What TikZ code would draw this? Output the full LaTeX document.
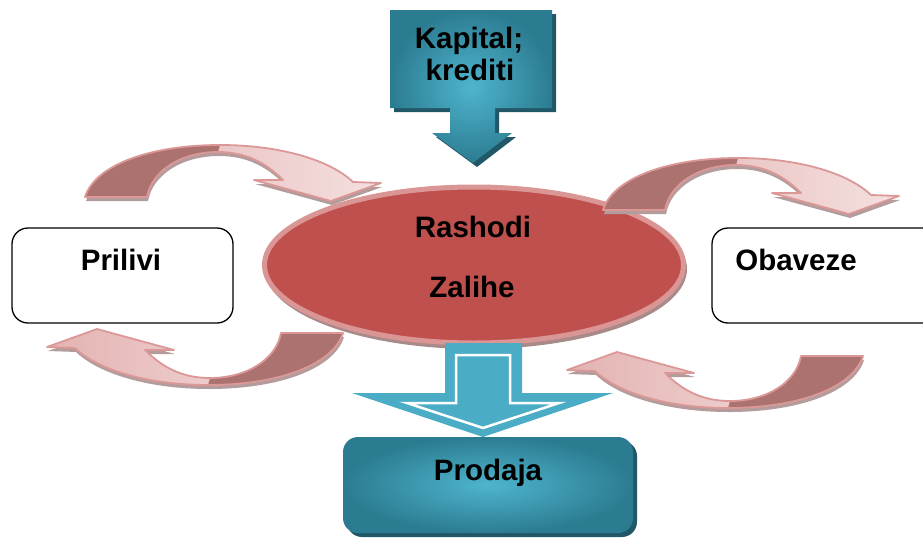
\documentclass[tikz,border=0pt]{standalone}
\usepackage{fontspec}
\setmainfont{Liberation Sans}
\usetikzlibrary{shapes.geometric}

\definecolor{tealfill}{HTML}{4BACC6}
\definecolor{tealdark}{HTML}{2C7C91}
\definecolor{teallight}{HTML}{4EB5CE}
\definecolor{tealshadow}{HTML}{215868}
\definecolor{redfill}{HTML}{C0504D}
\definecolor{redring}{HTML}{DA9694}
\definecolor{redshadow}{HTML}{A88A88}
\definecolor{rosedark}{HTML}{AC7270}
\definecolor{roselight}{HTML}{F4E0DF}
\definecolor{rosemid}{HTML}{E3B3B2}
\definecolor{roseedge}{HTML}{DC9896}
\definecolor{roseshadow}{HTML}{B49C9C}

% outline of one curved block arrow (tail at left, head pointing down-right)
\newcommand\arrowoutline{(85,197) .. controls (95,165) and (150,145) .. (220,145)
  .. controls (280,145) and (330,160) .. (353,182) -- (381,183) -- (331,201)
  -- (254,180) -- (283,180) .. controls (265,162) and (245,152) .. (218,152)
  .. controls (182,152) and (152,170) .. (147,197) -- cycle}
% the darker back part near the tail
\newcommand\arrowtail{(85,197) .. controls (95,165) and (150,145) .. (220,145)
  -- (218,152) .. controls (182,152) and (152,170) .. (147,197) -- cycle}

\newcommand\curvedarrow[1]{%
  \begin{scope}[shift={(1,4)}]\begin{scope}[#1]
    \fill[roseshadow] \arrowoutline;
  \end{scope}\end{scope}
  \begin{scope}[#1]
    \shade[left color=rosemid,right color=roselight] \arrowoutline;
    \fill[rosedark] \arrowtail;
    \draw[roseedge,line width=1.8pt,line join=round] \arrowoutline;
  \end{scope}}

\tikzset{
  label text/.style={font=\fontsize{29.5}{32}\selectfont\bfseries, inner sep=0pt, anchor=base},
  plain box/.style={draw=black, line width=1.3pt, fill=white, rounded corners=16pt, inner sep=0pt},
  teal box/.style={inner color=teallight, outer color=tealdark, rounded corners=15pt, inner sep=0pt}
}

\begin{document}
\begin{tikzpicture}[x=1pt,y=-1pt]
  \clip (0,0) rectangle (923,538);
  \fill[white] (0,0) rectangle (923,538);

  % side boxes
  \node[plain box, minimum width=221pt, minimum height=95pt] (prilivi) at (122.5,275.5) {};
  \node[plain box, minimum width=238pt, minimum height=95pt] (obaveze) at (831,275.5) {};
  \node[label text] (priliviT) at (121,270) {Prilivi};
  \node[label text] (obavezeT) at (796,270) {Obaveze};

  % top callout with downward arrow
  \fill[tealshadow] (394,14) -- (556,14) -- (556,112) -- (499,112) -- (499,137) -- (516,137)
    -- (477,167) -- (436,137) -- (454,137) -- (454,112) -- (394,112) -- cycle;
  \shade[inner color=teallight, outer color=tealdark] (390,10) -- (552,10) -- (552,108)
    -- (495,108) -- (495,133) -- (512,133) -- (473,163) -- (432,133) -- (450,133)
    -- (450,108) -- (390,108) -- cycle;
  \node[label text] (kap1) at (469,48) {Kapital;};
  \node[label text] (kap2) at (470,80) {krediti};

  % central ellipse
  \fill[redshadow] (476,269) ellipse [x radius=211, y radius=80];
  \node[ellipse, draw=redring, line width=5pt, fill=redfill, inner sep=0pt,
        minimum width=419pt, minimum height=156pt] (core) at (474,265) {};
  \node[label text] (rash) at (473,237) {Rashodi};
  \node[label text] (zal) at (472,297) {Zalihe};

  % curved arrows
  \curvedarrow{}
  \curvedarrow{shift={(518,13)}}
  \curvedarrow{rotate around={180:(214,265)}}
  \curvedarrow{shift={(520,23)},rotate around={180:(214,265)}}

  % downward block arrow
  \fill[tealfill] (445,343) -- (522,343) -- (522,393) -- (613,393) -- (483,437)
    -- (352,393) -- (445,393) -- cycle;
  \draw[white, line width=2.5pt] (456,355) -- (510,355) -- (510,403) -- (559,403)
    -- (483,428) -- (407,403) -- (456,403) -- cycle;

  % bottom box
  \fill[tealshadow, rounded corners=15pt] (347,441) rectangle (637,537);
  \node[teal box, minimum width=290pt, minimum height=96pt] (prodaja) at (488,485) {};
  \node[label text] (prodT) at (488,480) {Prodaja};
\end{tikzpicture}
\end{document}
